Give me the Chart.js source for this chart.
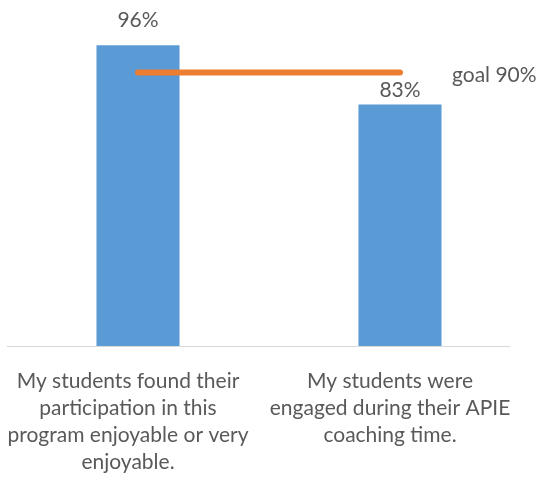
<!DOCTYPE html>
<html>
<head>
<meta charset="utf-8">
<script src="https://cdn.jsdelivr.net/npm/chart.js@4"></script>
<style>
  body { margin: 0; background: #fff; }
  #wrap { width: 543px; height: 479px; position: relative; }
</style>
</head>
<body>
<div id="wrap"><canvas id="chart"></canvas></div>
<script>
const categories = [
  ["My students found their", "participation in this", "program enjoyable or very", "enjoyable."],
  ["My students were", "engaged during their APIE", "coaching time."]
];
const percentages = [96, 83];
const goal = [90, 90];
const goalLabel = "goal 90%";

const textColor = "#595959";
const fontFamily = "Lato, 'Open Sans', sans-serif";

// baseline, value labels above bars, goal label
const labelsPlugin = {
  id: "labels",
  beforeDatasetsDraw(chart) {
    const ctx = chart.ctx;
    const area = chart.chartArea;
    ctx.save();
    ctx.strokeStyle = "#d9d9d9";
    ctx.lineWidth = 1;
    ctx.beginPath();
    ctx.moveTo(area.left, area.bottom + 0.5);
    ctx.lineTo(area.right - 21, area.bottom + 0.5);
    ctx.stroke();
    ctx.restore();
  },
  afterDatasetsDraw(chart) {
    const ctx = chart.ctx;
    const bars = chart.getDatasetMeta(0).data;
    const shift = [25, 14];
    ctx.save();
    ctx.fillStyle = textColor;
    ctx.font = "21px " + fontFamily;
    ctx.textAlign = "center";
    ctx.textBaseline = "middle";
    bars.forEach((bar, i) => {
      ctx.fillText(percentages[i] + "%", bar.x, bar.y - shift[i]);
    });
    const pts = chart.getDatasetMeta(1).data;
    const last = pts[pts.length - 1];
    ctx.textAlign = "left";
    ctx.fillText(goalLabel, last.x + 52, last.y + 3);
    ctx.restore();
  }
};

new Chart(document.getElementById("chart"), {
  data: {
    labels: categories,
    datasets: [
      {
        type: "bar",
        data: percentages,
        backgroundColor: "#5B9BD5",
        categoryPercentage: 1,
        barPercentage: 0.317,
        order: 1
      },
      {
        type: "line",
        data: goal,
        borderColor: "#ED7D31",
        borderWidth: 6,
        borderCapStyle: "round",
        pointRadius: 0,
        fill: false,
        order: 0
      }
    ]
  },
  options: {
    responsive: true,
    maintainAspectRatio: false,
    animation: false,
    layout: { padding: { top: 27, left: 7, right: 12, bottom: 0 } },
    plugins: {
      legend: { display: false },
      tooltip: { enabled: false }
    },
    scales: {
      x: {
        grid: { display: false },
        border: { display: false },
        afterFit(scale) {
          scale.height = 133;
          scale.paddingLeft = 0;
          scale.paddingRight = 0;
        },
        ticks: {
          color: textColor,
          font: { family: fontFamily, size: 21, lineHeight: "27px" },
          maxRotation: 0,
          autoSkip: false,
          labelOffset: -10,
          padding: 14
        }
      },
      y: {
        display: false,
        min: 30,
        max: 100
      }
    }
  },
  plugins: [labelsPlugin]
});
</script>
</body>
</html>
